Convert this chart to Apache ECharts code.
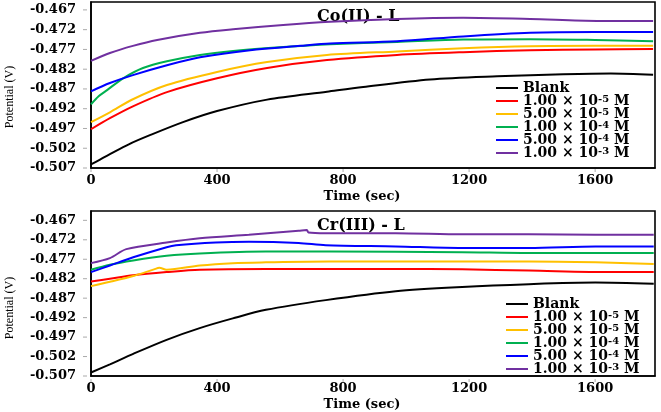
<!DOCTYPE html>
<html>
<head>
<meta charset="utf-8">
<script src="https://cdn.jsdelivr.net/npm/echarts@6/dist/echarts.min.js"></script>
<style>html,body{margin:0;padding:0;background:#fff}#c{width:661px;height:412px}</style>
</head>
<body>
<div id="c"></div>
<script>
// ---- data (time in s, potential in V) ----
const seriesNames = ['Blank', '1e-5', '5e-5', '1e-4', '5e-4', '1e-3'];
const legendLabels = {
  'Blank': 'Blank',
  '1e-5': '1.00 × 10{sup|-5} M',
  '5e-5': '5.00 × 10{sup|-5} M',
  '1e-4': '1.00 × 10{sup|-4} M',
  '5e-4': '5.00 × 10{sup|-4} M',
  '1e-3': '1.00 × 10{sup|-3} M'
};
const yTicks = [-0.507, -0.502, -0.497, -0.492, -0.487, -0.482, -0.477, -0.472, -0.467];
const xTicks = [0, 400, 800, 1200, 1600];
const panelTitles = ['Co(II) - L', 'Cr(III) - L'];

// Co(II) - L panel
const coBlank = [[0,-0.5061],[30,-0.5048],[60,-0.5035],[120,-0.5010],[187,-0.4987],[292,-0.4954],[400,-0.4926],[559,-0.4897],[749,-0.4877],[864,-0.4865],[1076,-0.4846],[1289,-0.4838],[1499,-0.4833],[1650,-0.4831],[1784,-0.4834]];
const coRed = [[0,-0.4972],[60,-0.4944],[133,-0.4914],[241,-0.4878],[400,-0.4843],[559,-0.4817],[749,-0.4797],[971,-0.4784],[1181,-0.4777],[1394,-0.4772],[1600,-0.4770],[1784,-0.4769]];
const coOrange = [[0,-0.4954],[60,-0.4929],[133,-0.4896],[241,-0.4860],[400,-0.4827],[559,-0.4802],[749,-0.4784],[971,-0.4775],[1181,-0.4767],[1394,-0.4762],[1600,-0.4761],[1784,-0.4761]];
const coGreen = [[0,-0.4909],[25,-0.4888],[51,-0.4873],[102,-0.4843],[165,-0.4817],[241,-0.4800],[346,-0.4784],[451,-0.4774],[610,-0.4764],[759,-0.4757],[971,-0.4751],[1181,-0.4745],[1394,-0.4744],[1600,-0.4746],[1784,-0.4749]];
const coBlue = [[0,-0.4876],[60,-0.4855],[133,-0.4835],[241,-0.4810],[346,-0.4790],[505,-0.4772],[664,-0.4761],[759,-0.4755],[971,-0.4749],[1181,-0.4737],[1394,-0.4728],[1600,-0.4726],[1784,-0.4726]];
const coPurple = [[0,-0.4799],[60,-0.4779],[133,-0.4761],[210,-0.4746],[346,-0.4728],[451,-0.4719],[610,-0.4708],[759,-0.4700],[971,-0.4693],[1181,-0.4690],[1394,-0.4693],[1606,-0.4698],[1784,-0.4698]];

// Cr(III) - L panel
const crBlank = [[0,-0.5061],[60,-0.5040],[134,-0.5013],[240,-0.4977],[345,-0.4947],[450,-0.4922],[555,-0.4900],[745,-0.4875],[967,-0.4852],[1178,-0.4841],[1390,-0.4834],[1601,-0.4830],[1786,-0.4833]];
const crRed = [[0,-0.4827],[60,-0.4820],[134,-0.4811],[240,-0.4803],[345,-0.4797],[555,-0.4795],[757,-0.4795],[967,-0.4795],[1178,-0.4796],[1390,-0.4799],[1654,-0.4803],[1786,-0.4803]];
const crOrange = [[0,-0.4839],[60,-0.4828],[134,-0.4813],[200,-0.4796],[217,-0.4792],[240,-0.4797],[345,-0.4786],[450,-0.4780],[555,-0.4778],[757,-0.4776],[1178,-0.4776],[1390,-0.4776],[1601,-0.4778],[1786,-0.4782]];
const crGreen = [[0,-0.4797],[60,-0.4784],[134,-0.4773],[240,-0.4761],[345,-0.4755],[555,-0.4750],[757,-0.4750],[1178,-0.4752],[1390,-0.4754],[1786,-0.4754]];
const crBlue = [[0,-0.4803],[60,-0.4786],[134,-0.4765],[240,-0.4739],[270,-0.4734],[396,-0.4727],[501,-0.4725],[659,-0.4728],[745,-0.4734],[967,-0.4737],[1178,-0.4741],[1390,-0.4741],[1601,-0.4737],[1786,-0.4737]];
const crPurple = [[0,-0.4780],[60,-0.4767],[112,-0.4744],[240,-0.4727],[345,-0.4716],[501,-0.4707],[659,-0.4697],[685,-0.4695],[690,-0.4701],[745,-0.4703],[967,-0.4703],[1178,-0.4706],[1390,-0.4706],[1601,-0.4707],[1786,-0.4707]];

const panelData = [
  [coBlank, coRed, coOrange, coGreen, coBlue, coPurple],
  [crBlank, crRed, crOrange, crGreen, crBlue, crPurple]
];

// ---- styles ----
const colors = ['#000000', '#ff0000', '#ffc000', '#00b050', '#0000ff', '#7030a0'];
const serifB = 'DejaVu Serif';
const grids = [
  { left: 91, top: 2, width: 564, height: 166, yMax: -0.4650 },
  { left: 91, top: 211, width: 564, height: 167, yMax: -0.4646 }
];
const legendPos = [{ left: 491, top: 76 }, { left: 501, top: 292 }];
const yNameCenter = [97, 308];
const yLabelRight = 76;

const chart = echarts.init(document.getElementById('c'), null, { renderer: 'canvas' });

const xAxes = [], yAxes = [];
grids.forEach((g, i) => {
  xAxes.push({
    type: 'value', gridIndex: i, min: 0, max: 1790,
    name: 'Time (sec)', nameLocation: 'middle', nameGap: 22,
    nameTextStyle: { fontFamily: serifB, fontWeight: 'bold', fontSize: 13, color: '#000', padding: [0, 22, 0, 0] },
    axisLine: { show: true, onZero: false, lineStyle: { color: '#000', width: 1.6 } },
    axisTick: { show: false },
    axisLabel: { customValues: xTicks, margin: 6, fontFamily: serifB, fontWeight: 'bold', fontSize: 13, color: '#000',
      formatter: v => String(v) },
    splitLine: { show: false }
  });
  yAxes.push({
    type: 'value', gridIndex: i, min: -0.507, max: g.yMax,
    axisLine: { show: true, onZero: false, lineStyle: { color: '#000', width: 1.6 } },
    axisTick: { show: false },
    axisLabel: { show: false },
    splitLine: { show: false }
  });
});

const yNames = yNameCenter.map(cy => ({
  type: 'text', x: 10, y: cy, rotation: Math.PI / 2,
  style: { text: 'Potential (V)', font: '12px "Liberation Serif"', fill: '#000', align: 'center', verticalAlign: 'middle' }
}));

const option = {
  backgroundColor: '#fff',
  animation: false,
  title: panelTitles.map((t, i) => ({
    text: t, left: 312, top: grids[i].top + 2,
    textStyle: { fontFamily: serifB, fontWeight: 'bold', fontSize: 16, color: '#000' }
  })),
  grid: grids.map(g => ({ left: g.left, top: g.top, width: g.width, height: g.height,
    show: true, borderColor: '#000', borderWidth: 1.6 })),
  xAxis: xAxes,
  yAxis: yAxes,
  legend: legendPos.map(p => ({
    orient: 'vertical', left: p.left, top: p.top,
    itemWidth: 22, itemHeight: 2, itemGap: -1, icon: 'rect',
    data: seriesNames,
    formatter: n => legendLabels[n],
    selectedMode: false,
    textStyle: {
      fontFamily: serifB, fontWeight: 'bold', fontSize: 14, color: '#000', lineHeight: 13,
      rich: { sup: { fontFamily: serifB, fontWeight: 'bold', fontSize: 10, color: '#000', verticalAlign: 'top', lineHeight: 9 } }
    }
  })),
  graphic: yNames,
  series: []
};

panelData.forEach((sets, pi) => {
  sets.forEach((d, si) => {
    option.series.push({
      type: 'line', name: seriesNames[si], xAxisIndex: pi, yAxisIndex: pi,
      data: d, showSymbol: false, smooth: 0.3,
      lineStyle: { color: colors[si], width: 2 }, itemStyle: { color: colors[si] },
      z: 2 + si
    });
  });
});

chart.setOption(option);

// y tick labels and small ticks, placed through the library's own y scales
const extra = [];
grids.forEach((g, i) => {
  yTicks.forEach(v => {
    const py = chart.convertToPixel({ yAxisIndex: i }, v);
    extra.push({
      type: 'text', x: yLabelRight, y: py,
      style: { text: v.toFixed(3), font: 'bold 13px "DejaVu Serif"', fill: '#000', align: 'right', verticalAlign: 'middle' }
    });
    extra.push({
      type: 'line', shape: { x1: g.left - 8, y1: py, x2: g.left - 4, y2: py },
      style: { stroke: '#aaa', lineWidth: 1 }
    });
  });
  xTicks.forEach(v => {
    const px = chart.convertToPixel({ xAxisIndex: i }, v);
    const base = g.top + g.height;
    extra.push({
      type: 'line', shape: { x1: px, y1: base + 1, x2: px, y2: base + 4 },
      style: { stroke: '#aaa', lineWidth: 1 }
    });
  });
});
chart.setOption({ graphic: yNames.concat(extra) }, { replaceMerge: ['graphic'] });
</script>
</body>
</html>
